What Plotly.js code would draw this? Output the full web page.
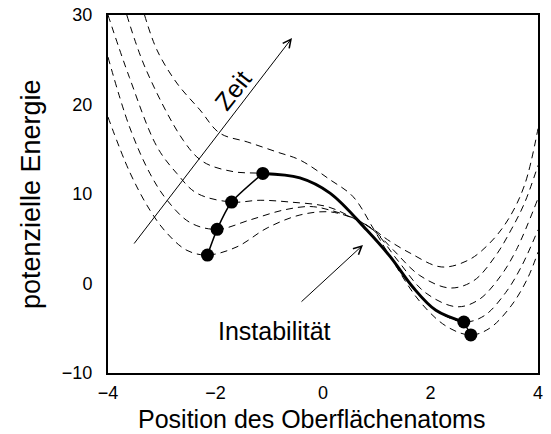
<!DOCTYPE html>
<html><head><meta charset="utf-8">
<script src="https://cdn.plot.ly/plotly-3.0.1.min.js"></script>
<style>html,body{margin:0;padding:0;background:#fff}</style>
</head><body><div id="chart" style="width:551px;height:434px"></div>
<script>
// dashed potential curves (time steps 1..5)
const c1x = [-4, -3.6, -3.22, -2.9, -2.53, -2.15, -1.6, -1.04, -0.43, 0.13, 0.6, 0.95, 1.2, 1.62, 2.2, 2.7, 3.1, 3.45, 3.75, 4];
const c1y = [18.6, 12.5, 8.2, 5.6, 3.7, 3.18, 4.1, 6.2, 7.65, 8.0, 7.2, 6.0, 4.9, 3.4, 1.85, 2.6, 4.5, 7.2, 11.0, 17.3];
const c2x = [-4, -3.6, -3.22, -2.9, -2.47, -1.97, -1.36, -0.74, -0.24, 0.13, 0.6, 0.95, 1.3, 1.8, 2.36, 2.8, 3.2, 3.5, 3.75, 4];
const c2y = [25.3, 17.5, 12.3, 9.3, 6.8, 6.05, 7.1, 8.2, 8.6, 8.2, 7.2, 5.9, 3.8, 0.9, -0.5, 0.3, 3.0, 6.0, 9.0, 13.2];
const c3x = [-4, -3.6, -3.09, -2.72, -2.35, -1.70, -1.17, -0.61, 0.07, 0.5, 0.95, 1.4, 1.9, 2.49, 2.9, 3.3, 3.6, 4];
const c3y = [30, 23, 15.3, 12.3, 10.1, 9.1, 9.3, 9.1, 8.6, 7.5, 5.9, 2.5, -1.0, -2.6, -1.8, 0.8, 3.8, 9.5];
const c4x = [-3.65, -3.3, -2.6, -2.23, -1.67, -1.12, -0.43, 0.13, 0.81, 1.25, 1.67, 2.1, 2.62, 3.0, 3.4, 3.7, 4];
const c4y = [30, 24, 16.0, 13.6, 12.5, 12.3, 11.8, 10.1, 6.0, 3.0, -0.4, -3.0, -4.3, -3.6, -1.0, 2.0, 6.0];
const c5x = [-3.32, -3.09, -2.72, -2.29, -1.92, -1.4, -0.86, -0.43, 0.13, 0.56, 0.95, 1.3, 1.8, 2.3, 2.75, 3.1, 3.5, 3.8, 4];
const c5y = [30, 26.1, 22.4, 19.4, 16.8, 15.8, 14.7, 13.8, 11.6, 9.7, 6.0, 2.5, -2.0, -4.8, -5.75, -5.0, -2.5, 0.5, 3.5];
// marked states of the atom
const leftDotX = [-2.15, -1.97, -1.70, -1.12];
const leftDotY = [3.18, 6.05, 9.1, 12.3];
const rightDotX = [2.62, 2.75];
const rightDotY = [-4.3, -5.75];
// thick path: curve 4 from saddle (index 5) to right minimum (index 12)
const jumpStart = 5, jumpEnd = 12;
const xRange = [-4, 4], yRange = [-10, 30];

const BLACK = 'rgb(0,0,0)';
const dashed = {color: BLACK, width: 1, dash: '7px,5px', shape: 'spline', smoothing: 1};
const curves = [[c1x,c1y],[c2x,c2y],[c3x,c3y],[c4x,c4y],[c5x,c5y]];
const traces = curves.map(([x,y]) => ({x, y, mode: 'lines', line: dashed, hoverinfo: 'skip', showlegend: false}));
traces.push({x: c4x.slice(jumpStart, jumpEnd+1), y: c4y.slice(jumpStart, jumpEnd+1), mode: 'lines',
  line: {color: BLACK, width: 3, shape: 'spline', smoothing: 1}, showlegend: false});
traces.push({x: leftDotX, y: leftDotY, mode: 'lines+markers', line: {color: BLACK, width: 1.5, shape: 'spline', smoothing: 0.6},
  marker: {color: BLACK, size: 13}, showlegend: false});
traces.push({x: rightDotX, y: rightDotY, mode: 'lines+markers', line: {color: BLACK, width: 1.5},
  marker: {color: BLACK, size: 13}, showlegend: false});

const font = 'Liberation Sans, Arial, Helvetica, sans-serif';
const layout = {
  width: 551, height: 434, margin: {l: 108, r: 13, t: 15, b: 61},
  paper_bgcolor: 'rgb(255,255,255)', plot_bgcolor: 'rgb(255,255,255)', showlegend: false,
  font: {family: font, color: BLACK},
  xaxis: {range: xRange, tick0: 0, dtick: 2, showline: true, linecolor: BLACK, linewidth: 2, mirror: true,
    ticks: '', showgrid: false, zeroline: false, ticklabelstandoff: 2, tickfont: {family: font, size: 18, color: BLACK}},
  yaxis: {range: yRange, tick0: 0, dtick: 10, showline: true, linecolor: BLACK, linewidth: 2, mirror: true,
    ticks: '', showgrid: false, zeroline: false, ticklabelstandoff: 10, tickfont: {family: font, size: 18, color: BLACK}},
  annotations: [
    {x: 0.474, y: -0.128, xref: 'paper', yref: 'paper', text: 'Position des Oberflächenatoms', showarrow: false,
      xanchor: 'center', yanchor: 'middle', font: {family: font, size: 25, color: BLACK}},
    {x: -0.179, y: 0.5, xref: 'paper', yref: 'paper', text: 'potenzielle Energie', showarrow: false, textangle: -90,
      xanchor: 'center', yanchor: 'middle', font: {family: font, size: 27, color: BLACK}},
    {x: -0.577, y: 27.43, ax: -3.535, ay: 4.30, xref: 'x', yref: 'y', axref: 'x', ayref: 'y', text: '', showarrow: true,
      arrowhead: 5, arrowsize: 1.6, arrowwidth: 1, arrowcolor: BLACK, standoff: 0},
    {x: -1.674, y: 21.6, xref: 'x', yref: 'y', text: 'Zeit', showarrow: false, textangle: -52,
      font: {family: font, size: 25, color: BLACK}},
    {x: 0.744, y: 4.30, ax: -0.428, ay: -2.18, xref: 'x', yref: 'y', axref: 'x', ayref: 'y', text: '', showarrow: true,
      arrowhead: 5, arrowsize: 1.6, arrowwidth: 1, arrowcolor: BLACK, standoff: 0},
    {x: -0.902, y: -5.3, xref: 'x', yref: 'y', text: 'Instabilität', showarrow: false,
      font: {family: font, size: 25, color: BLACK}}
  ]
};
Plotly.newPlot('chart', traces, layout, {staticPlot: true, displayModeBar: false});
</script></body></html>
